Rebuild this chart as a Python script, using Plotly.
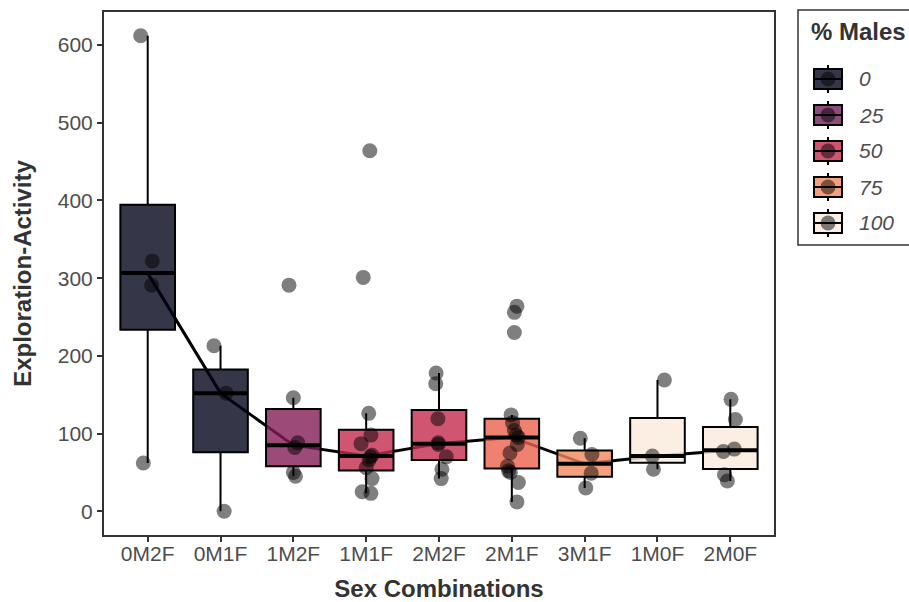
import numpy as np
import plotly.graph_objects as go
from plotly.colors import sample_colorscale

# ---------------- data ----------------
categories = ["0M2F", "0M1F", "1M2F", "1M1F", "2M2F", "2M1F", "3M1F", "1M0F", "2M0F"]
pct_males = [0, 0, 33.3, 50, 50, 66.7, 75, 100, 100]

vals_0M2F = [612, 322, 291, 62]
vals_0M1F = [213, 152, 0]
vals_1M2F = [291, 146, 88, 82, 50, 45]
vals_1M1F = [464, 301, 126, 98, 87, 72, 70, 66, 56, 42, 25, 23]
vals_2M2F = [178, 164, 119, 88, 86, 70, 54, 42]
vals_2M1F = [264, 256, 230, 124, 114, 104, 98, 95, 86, 75, 58, 52, 50, 37, 12]
vals_3M1F = [94, 73, 49, 30]
vals_1M0F = [169, 71, 54]
vals_2M0F = [144, 118, 80, 77, 47, 39]

# horizontal jitter of each point (fraction of category spacing)
jit_0M2F = [-0.096, 0.063, 0.055, -0.06]
jit_0M1F = [-0.09, 0.075, 0.05]
jit_1M2F = [-0.06, 0.0, 0.06, 0.02, 0.0, 0.03]
jit_1M1F = [0.05, -0.04, 0.035, 0.065, -0.07, 0.08, 0.055, 0.04, 0.0, 0.08, -0.055, 0.065]
jit_2M2F = [-0.04, -0.045, -0.015, -0.01, -0.01, 0.1, 0.04, 0.03]
jit_2M1F = [0.07, 0.035, 0.035, -0.01, 0.01, 0.035, 0.06, 0.09, 0.075, -0.025, -0.06, -0.045, -0.02, 0.09, 0.07]
jit_3M1F = [-0.06, 0.1, 0.09, 0.015]
jit_1M0F = [0.095, -0.07, -0.055]
jit_2M0F = [0.01, 0.07, 0.055, -0.095, -0.08, -0.04]

values = [vals_0M2F, vals_0M1F, vals_1M2F, vals_1M1F, vals_2M2F,
          vals_2M1F, vals_3M1F, vals_1M0F, vals_2M0F]
jitters = [jit_0M2F, jit_0M1F, jit_1M2F, jit_1M1F, jit_2M2F,
           jit_2M1F, jit_3M1F, jit_1M0F, jit_2M0F]

legend_levels = [0, 25, 50, 75, 100]

# ---------------- styles ----------------
ROCKET = [
    [0.0, "#03051A"], [0.083, "#35193E"], [0.25, "#701F57"], [0.333, "#831D56"],
    [0.417, "#AD1759"], [0.5, "#C32B4C"], [0.583, "#E13342"], [0.667, "#EC604C"],
    [0.75, "#F3885D"], [0.917, "#F6B48F"], [1.0, "#FAEBDD"],
]
ALPHA = 0.8
FONT = "Liberation Sans, Arial, sans-serif"
BOX_W = 0.75


def fill(p):
    c = sample_colorscale(ROCKET, [p / 100.0])[0]  # 'rgb(r, g, b)'
    return c.replace("rgb(", "rgba(").replace(")", f", {ALPHA})")


fig = go.Figure()

medians = []
for i, (cat, v, p) in enumerate(zip(categories, values, pct_males)):
    arr = np.array(v, dtype=float)
    q1, med, q3 = np.percentile(arr, [25, 50, 75])
    iqr = q3 - q1
    upper = arr[arr <= q3 + 1.5 * iqr].max()
    lower = arr[arr >= q1 - 1.5 * iqr].min()
    medians.append(med)
    fig.add_trace(go.Box(
        x=[i], q1=[q1], median=[med], q3=[q3],
        lowerfence=[lower], upperfence=[upper],
        width=BOX_W, whiskerwidth=0, boxpoints=False,
        fillcolor=fill(p), line=dict(color="black", width=2),
        showlegend=False, hoverinfo="skip",
    ))

# thick median bars (ggplot fatten)
mx, my = [], []
for i, med in enumerate(medians):
    mx += [i - BOX_W / 2, i + BOX_W / 2, None]
    my += [med, med, None]
fig.add_trace(go.Scatter(x=mx, y=my, mode="lines",
                         line=dict(color="black", width=4),
                         showlegend=False, hoverinfo="skip"))

# jittered points
px, py = [], []
for i, (v, j) in enumerate(zip(values, jitters)):
    px += [i + d for d in j]
    py += v
fig.add_trace(go.Scatter(x=px, y=py, mode="markers",
                         marker=dict(size=15, color="rgba(0,0,0,0.5)", line=dict(width=0)),
                         showlegend=False, hoverinfo="skip"))

# median connecting line (beneath boxes)
path = "M " + " L ".join(f"{i},{m}" for i, m in enumerate(medians))
shapes = [dict(type="path", path=path, xref="x", yref="y", layer="below",
               line=dict(color="black", width=3))]

# y range like ggplot (5% expansion)
allv = np.concatenate([np.array(v, float) for v in values])
pad = 0.05 * (allv.max() - allv.min())
yr = [allv.min() - pad, allv.max() + pad]

# ---------------- layout geometry ----------------
W, H = 909, 602
L, R, T, B = 104, 774, 12, 535


def xp(x):
    return (x - L) / (R - L)


def yp(y):
    return (B - y) / (B - T)


# manual legend
shapes.append(dict(type="rect", xref="paper", yref="paper",
                   x0=xp(798), x1=xp(930), y0=yp(245), y1=yp(10),
                   line=dict(color="#333333", width=1.5), fillcolor="white", layer="above"))
annotations = [dict(text="<b>% Males</b>", xref="paper", yref="paper",
                    x=xp(809), y=yp(32), xanchor="left", yanchor="middle",
                    showarrow=False, font=dict(family=FONT, size=24, color="#333333"))]
key_y = [79, 115, 151, 187, 223]
kx0, kx1, kxc = 814, 842, 828
for lev, yc in zip(legend_levels, key_y):
    shapes.append(dict(type="line", xref="paper", yref="paper",
                       x0=xp(kxc), x1=xp(kxc), y0=yp(yc - 14), y1=yp(yc + 14),
                       line=dict(color="black", width=2), layer="above"))
    shapes.append(dict(type="rect", xref="paper", yref="paper",
                       x0=xp(kx0), x1=xp(kx1), y0=yp(yc + 10), y1=yp(yc - 10),
                       fillcolor="white", line=dict(width=0), layer="above"))
    shapes.append(dict(type="rect", xref="paper", yref="paper",
                       x0=xp(kx0), x1=xp(kx1), y0=yp(yc + 10), y1=yp(yc - 10),
                       fillcolor=fill(lev), line=dict(color="black", width=2), layer="above"))
    shapes.append(dict(type="line", xref="paper", yref="paper",
                       x0=xp(kx0), x1=xp(kx1), y0=yp(yc), y1=yp(yc),
                       line=dict(color="black", width=2), layer="above"))
    shapes.append(dict(type="circle", xref="paper", yref="paper",
                       x0=xp(kxc - 7.5), x1=xp(kxc + 7.5), y0=yp(yc + 7.5), y1=yp(yc - 7.5),
                       fillcolor="rgba(0,0,0,0.5)", line=dict(width=0), layer="above"))
    annotations.append(dict(text=f"<i>{lev}</i>", xref="paper", yref="paper",
                            x=xp(857), y=yp(yc), xanchor="left", yanchor="middle",
                            showarrow=False, font=dict(family=FONT, size=21, color="#4D4D4D")))

axis_common = dict(showline=True, mirror=True, linecolor="#333333", linewidth=2,
                   ticks="outside", ticklen=5, tickwidth=1.5, tickcolor="#333333",
                   showgrid=False, zeroline=False,
                   tickfont=dict(family=FONT, size=21, color="#4D4D4D"))

fig.update_layout(
    width=W, height=H,
    margin=dict(l=L, r=W - R, t=T, b=H - B, autoexpand=False),
    paper_bgcolor="white", plot_bgcolor="white",
    font=dict(family=FONT),
    xaxis=dict(**axis_common, range=[-0.6, len(categories) - 0.4],
               tickmode="array", tickvals=list(range(len(categories))), ticktext=categories,
               ticklabelstandoff=-6,
               title=dict(text="<b>Sex Combinations</b>", standoff=27,
                          font=dict(family=FONT, size=24, color="#333333"))),
    yaxis=dict(**axis_common, range=yr, tickmode="linear", tick0=0, dtick=100,
               title=dict(text="<b>Exploration-Activity</b>", standoff=19,
                          font=dict(family=FONT, size=24, color="#333333"))),
    shapes=shapes, annotations=annotations, showlegend=False,
)

fig.write_html("out.html")
